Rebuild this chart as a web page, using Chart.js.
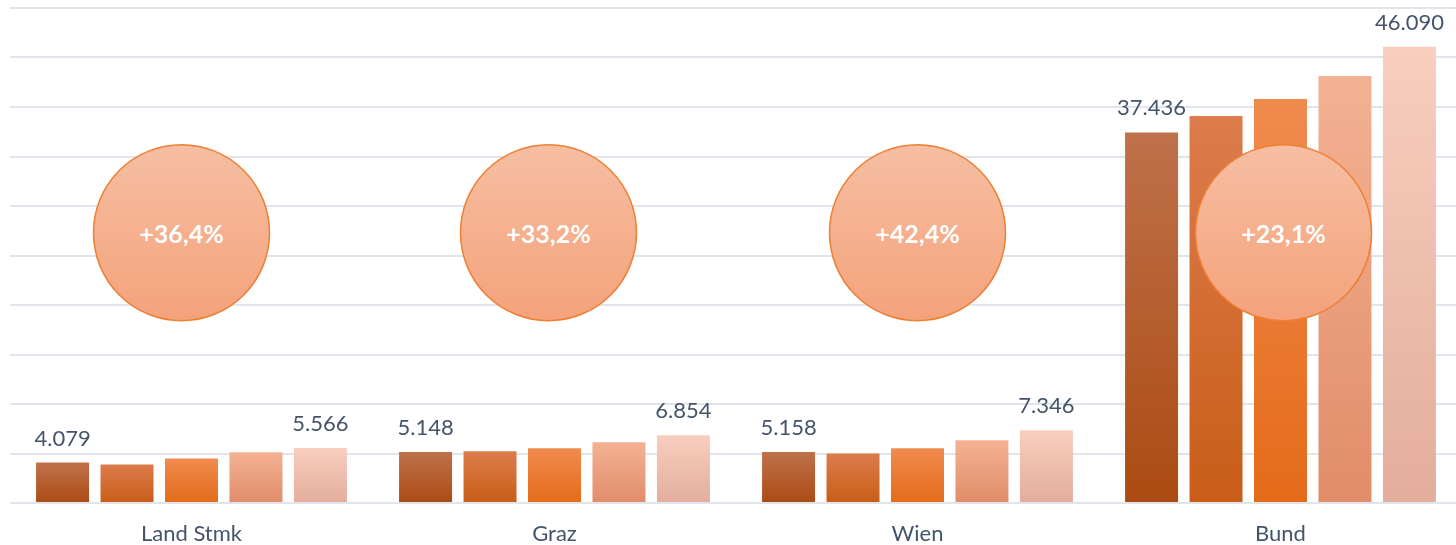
<!DOCTYPE html>
<html>
<head>
<meta charset="utf-8">
<script src="https://cdn.jsdelivr.net/npm/chart.js@4.4.0/dist/chart.umd.min.js"></script>
<style>
html, body { margin: 0; padding: 0; background: #fff; overflow: hidden; }
#wrap { width: 1462px; height: 545px; }
</style>
</head>
<body>
<div id="wrap"><canvas id="chart" width="1462" height="545"></canvas></div>
<script>
'use strict';

// DATA
var regions = ['Land Stmk', 'Graz', 'Wien', 'Bund'];
var series1 = [4079, 5148, 5158, 37436];
var series2 = [3900, 5230, 5000, 39080];
var series3 = [4500, 5530, 5530, 40800];
var series4 = [5120, 6140, 6330, 43120];
var series5 = [5566, 6854, 7346, 46090];
var changes = ['+36,4%', '+33,2%', '+42,4%', '+23,1%'];
var yMax = 50000;
var yStep = 5000;

// STYLE
var barColors = [
   ['#bf714b', '#ab4b12'],
   ['#dc7c4c', '#c95d18'],
   ['#f08b4f', '#e46b19'],
   ['#f3b293', '#e18c69'],
   ['#f8cebe', '#e3ad9c']
];
var textColor = '#44546a';
var fontFam = 'Lato, "Open Sans", sans-serif';

function fmt(v) {
   return String(v).replace(/\B(?=(\d{3})+(?!\d))/g, '.');
}

function barGradient(i) {
   return function (ctx) {
      var chart = ctx.chart;
      var y = chart.scales.y;
      if (!y || ctx.raw === undefined) return barColors[i][0];
      var top = y.getPixelForValue(ctx.raw);
      var bottom = y.getPixelForValue(0);
      if (!isFinite(top) || !isFinite(bottom) || top === bottom) return barColors[i][0];
      var g = chart.ctx.createLinearGradient(0, top, 0, bottom);
      g.addColorStop(0, barColors[i][0]);
      g.addColorStop(1, barColors[i][1]);
      return g;
   };
}

// value labels over first and last bar of each group
var valueLabels = {
   id: 'valueLabels',
   afterDatasetsDraw: function (chart) {
      var c = chart.ctx;
      c.save();
      c.font = '22px ' + fontFam;
      c.fillStyle = textColor;
      c.textAlign = 'center';
      c.textBaseline = 'alphabetic';
      [0, 4].forEach(function (di) {
         var meta = chart.getDatasetMeta(di);
         var ds = chart.data.datasets[di];
         meta.data.forEach(function (bar, i) {
            c.fillText(fmt(ds.data[i]), bar.x, bar.y - 17);
         });
      });
      c.restore();
   }
};

// percent bubbles
var bubbles = {
   id: 'bubbles',
   afterDatasetsDraw: function (chart, args, opts) {
      var c = chart.ctx;
      var xs = chart.scales.x, ys = chart.scales.y;
      var cy = ys.getPixelForValue(opts.level);
      var r = opts.radius;
      c.save();
      changes.forEach(function (txt, i) {
         var cx = xs.getPixelForValue(i) + opts.shift[i];
         var g = c.createLinearGradient(0, cy - r, 0, cy + r);
         g.addColorStop(0, '#f6bea2');
         g.addColorStop(1, '#f4a27b');
         c.beginPath();
         c.arc(cx, cy, r, 0, Math.PI * 2);
         c.fillStyle = g;
         c.fill();
         c.lineWidth = 1.5;
         c.strokeStyle = '#ee7f35';
         c.stroke();
         c.fillStyle = '#ffffff';
         c.font = 'bold 25px ' + fontFam;
         c.textAlign = 'center';
         c.textBaseline = 'middle';
         c.fillText(txt, cx, cy + 2);
      });
      c.restore();
   }
};

var allSeries = [series1, series2, series3, series4, series5];
var datasets = allSeries.map(function (s, i) {
   return {
      label: 'Reihe ' + (i + 1),
      data: s,
      backgroundColor: barGradient(i),
      borderWidth: 0,
      categoryPercentage: 0.888,
      barPercentage: 0.822
   };
});

var config = {
   type: 'bar',
   data: { labels: regions, datasets: datasets },
   options: {
      responsive: false,
      animation: false,
      layout: { padding: { left: 10, right: 0, top: 8, bottom: 0 } },
      plugins: {
         legend: { display: false },
         tooltip: { enabled: false },
         bubbles: { level: 27300, radius: 88, shift: [-10, -6, 0, 3] }
      },
      scales: {
         x: {
            grid: { display: false },
            border: { display: false },
            ticks: {
               color: textColor,
               font: { family: fontFam, size: 22 },
               padding: 10
            },
            afterFit: function (axis) { axis.height = 42; }
         },
         y: {
            min: 0,
            max: yMax,
            ticks: { display: false, stepSize: yStep },
            grid: { color: '#e1e5eb', lineWidth: 2, drawTicks: false },
            border: { display: false }
         }
      }
   },
   plugins: [valueLabels, bubbles]
};

var chart = new Chart(document.getElementById('chart'), config);
</script>
</body>
</html>
